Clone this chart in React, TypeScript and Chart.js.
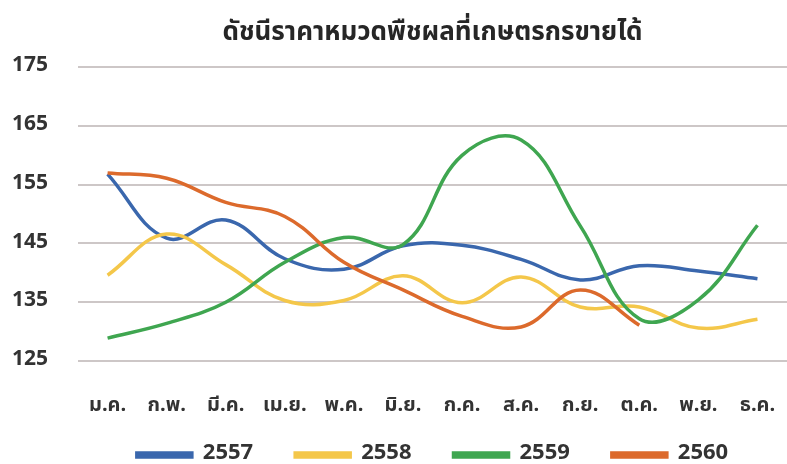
import React, { useEffect, useRef } from "react";
import { Chart, registerables } from "chart.js";

Chart.register(...registerables);

const TITLE = "ดัชนีราคาหมวดพืชผลที่เกษตรกรขายได้";
const MONTHS = ["ม.ค.", "ก.พ.", "มี.ค.", "เม.ย.", "พ.ค.", "มิ.ย.", "ก.ค.", "ส.ค.", "ก.ย.", "ต.ค.", "พ.ย.", "ธ.ค."];
const Y_TICKS = [125, 135, 145, 155, 165, 175];

const S2557 = [156.8, 145.9, 149.0, 142.4, 140.6, 144.6, 144.7, 142.3, 138.8, 141.2, 140.3, 139.0];
const S2558 = [139.6, 146.6, 141.4, 135.3, 135.3, 139.5, 134.9, 139.3, 134.2, 134.2, 130.6, 132.1];
const S2559 = [128.9, 131.4, 135.0, 141.8, 146.0, 144.8, 160.0, 162.6, 148.0, 132.2, 135.4, 148.1];
const S2560 = [157.0, 156.1, 152.0, 149.6, 141.8, 137.1, 132.6, 130.8, 137.1, 131.1, null, null];

const FONT = "'Noto Sans Thai', Tahoma, 'Noto Sans', 'DejaVu Sans', sans-serif";

// raises the legend's top edge after layout so its items sit close under the month labels
const legendShift = {
  id: "legendShift",
  afterLayout(chart: any) {
    const lg = chart.legend;
    if (lg) {
      lg.top -= 20;
    }
  },
};

export default function App() {
  const ref = useRef<HTMLCanvasElement | null>(null);

  useEffect(() => {
    if (!ref.current) return;
    const mk = (label: string, data: (number | null)[], color: string, order: number) => ({
      label,
      data,
      borderColor: color,
      backgroundColor: color,
      borderWidth: 3.5,
      pointRadius: 0,
      tension: 0.4,
      fill: false,
      order,
    });
    const chart = new Chart(ref.current, {
      type: "line",
      data: {
        labels: MONTHS,
        datasets: [
          mk("2557", S2557, "#3a67ad", 4),
          mk("2558", S2558, "#f4c74a", 3),
          mk("2559", S2559, "#3fa650", 2),
          mk("2560", S2560, "#dc6a2c", 1),
        ],
      },
      plugins: [legendShift],
      options: {
        animation: false,
        responsive: true,
        maintainAspectRatio: false,
        layout: { padding: { left: -18, right: -5, top: 4, bottom: 0 } },
        plugins: {
          title: {
            display: true,
            text: TITLE,
            fullSize: false,
            color: "#262626",
            font: { family: FONT, size: 26, weight: "bold" },
            padding: { top: 15, bottom: 17 },
          },
          legend: {
            position: "bottom",
            fullSize: false,
            maxHeight: 42,
            labels: {
              boxWidth: 55,
              boxHeight: 4,
              padding: 42,
              color: "#333333",
              font: { family: FONT, size: 22, weight: "bold" },
              sort: (a: any, b: any) => a.datasetIndex - b.datasetIndex,
            },
          },
          tooltip: { enabled: false },
        },
        scales: {
          x: {
            offset: true,
            grid: { display: false, drawTicks: true, tickLength: 31 },
            border: { display: false },
            ticks: {
              color: "#333333",
              padding: 3,
              font: { family: FONT, size: 20, weight: "bold" },
            },
          },
          y: {
            min: 125,
            max: 175,
            afterBuildTicks: (axis: any) => {
              axis.ticks = Y_TICKS.map((v) => ({ value: v }));
            },
            grid: { color: "#cdc7c7", lineWidth: 2, drawTicks: false },
            border: { display: false },
            ticks: {
              color: "#333333",
              padding: 30,
              font: { family: FONT, size: 21, weight: "bold" },
            },
          },
        },
      },
    });
    return () => chart.destroy();
  }, []);

  return (
    <div style={{ position: "absolute", left: 0, top: 0, width: 787, height: 464, background: "#ffffff" }}>
      <canvas ref={ref} />
    </div>
  );
}
